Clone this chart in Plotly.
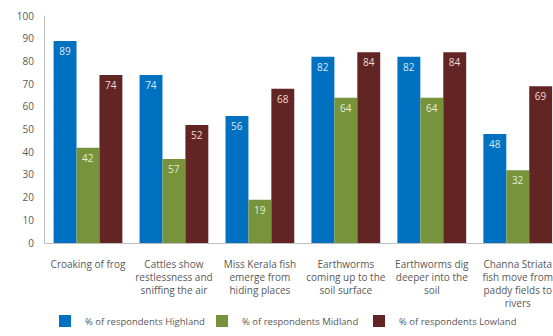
import plotly.graph_objects as go

categories = [
    "Croaking of frog",
    "Cattles show<br>restlessness and<br>sniffing the air",
    "Miss Kerala fish<br>emerge from<br>hiding places",
    "Earthworms<br>coming up to the<br>soil surface",
    "Earthworms dig<br>deeper into the<br>soil",
    "Channa Striata<br>fish move from<br>paddy fields to<br>rivers",
]
highland = [89, 74, 56, 82, 82, 48]
midland = [42, 37, 19, 64, 64, 32]
midland_labels = ["42", "57", "19", "64", "64", "32"]
lowland = [74, 52, 68, 84, 84, 69]
y_ticks = list(range(0, 101, 10))

colors = ["#0070C0", "#77933C", "#632523"]
label_colors = ["#DCE9F5", "#E6EDD8", "#F0DADA"]
names = ["% of respondents Highland", "% of respondents Midland", "% of respondents Lowland"]
texts = [[str(v) for v in highland], midland_labels, [str(v) for v in lowland]]

fig = go.Figure()
for vals, c, lc, n, t in zip([highland, midland, lowland], colors, label_colors, names, texts):
    fig.add_trace(go.Bar(
        x=categories, y=vals, name=n, marker=dict(color=c, line=dict(width=0)),
        text=t, textposition="inside", insidetextanchor="end",
        textfont=dict(color=lc, size=10, family="Open Sans"),
        textangle=0,
    ))

fig.update_layout(
    width=553, height=336,
    margin=dict(l=45, r=0, t=16, b=87),
    barmode="group", bargap=0.2, bargroupgap=0,
    plot_bgcolor="white", paper_bgcolor="white",
    font=dict(family="Open Sans", size=10, color="#595959"),
    showlegend=True,
    legend=dict(orientation="h", x=0.0, xanchor="left", y=-0.28, yanchor="top",
                font=dict(size=9.5, color="#595959"), itemwidth=30, traceorder="normal",
                entrywidth=112, entrywidthmode="pixels"),
    uniformtext=dict(minsize=8, mode="show"),
)
fig.update_xaxes(range=[-0.5, 5.41], showline=True, linecolor="#BFBFBF", linewidth=1,
                 ticks="", tickfont=dict(size=10, color="#595959"), showgrid=False,
                 automargin=False, ticklabelstandoff=12)
fig.update_yaxes(range=[0, 100], tickvals=y_ticks, showline=True, linecolor="#BFBFBF",
                 linewidth=1, showgrid=False, zeroline=False, ticks="",
                 tickfont=dict(size=10, color="#595959"), ticklabelstandoff=8,
                 automargin=False)

fig.write_html(
    "out.html",
    config={"displayModeBar": False},
    post_script="document.body.style.margin='0';document.documentElement.style.overflow='hidden';document.body.style.overflow='hidden';",
)
